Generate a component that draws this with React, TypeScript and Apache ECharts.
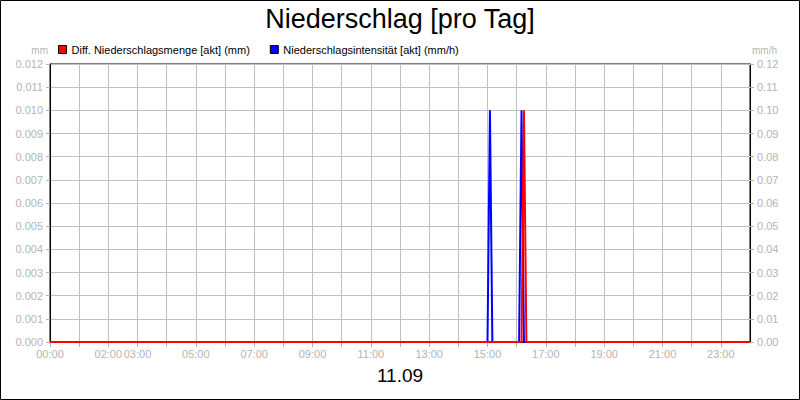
import { useRef, useEffect } from 'react'
import * as echarts from 'echarts'

// time in minutes since 00:00 of the day
const redTimes = [0, 970, 975, 980, 1440]
const redValues = [0, 0, 0.01, 0, 0]
const blueTimes = [0, 900, 905, 910, 965, 970, 975, 1440]
const blueValues = [0, 0, 0.1, 0, 0, 0.1, 0, 0]

const labeledHours = [0, 2, 3, 5, 7, 9, 11, 13, 15, 17, 19, 21, 23]
const redName = 'Diff. Niederschlagsmenge [akt] (mm)'
const blueName = 'Niederschlagsintensität [akt] (mm/h)'
const titleText = 'Niederschlag [pro Tag]'
const dayLabel = '11.09'

const FONT = '"Liberation Sans", Arial, sans-serif'
const LABEL_GRAY = '#b4b4b4'
const GRID_GRAY = '#c0c0c0'

export default function App() {
  const chartRef = useRef<HTMLDivElement>(null)

  useEffect(() => {
    if (!chartRef.current) return
    const chart = echarts.init(chartRef.current, undefined, { renderer: 'svg' })

    const redData = redTimes.map((t, i) => [t, redValues[i]])
    const blueData = blueTimes.map((t, i) => [t, blueValues[i]])

    chart.setOption({
      animation: false,
      backgroundColor: '#fff',
      textStyle: { fontFamily: FONT },
      title: {
        text: titleText,
        left: 'center',
        top: 0,
        textStyle: { fontSize: 27, fontWeight: 'normal', color: '#000', fontFamily: FONT },
      },
      legend: {
        left: 53,
        top: 39,
        icon: 'rect',
        itemWidth: 8,
        itemHeight: 8,
        itemGap: 20,
        itemStyle: { borderColor: '#000', borderWidth: 1 },
        textStyle: { fontSize: 11, color: '#000', fontFamily: FONT },
        data: [redName, blueName],
      },
      grid: { left: 50, right: 50, top: 64, bottom: 58, show: true, borderColor: '#000', borderWidth: 1 },
      xAxis: {
        type: 'value',
        min: 0,
        max: 1440,
        interval: 60,
        name: dayLabel,
        nameLocation: 'middle',
        nameGap: 24,
        nameTextStyle: { fontSize: 19, color: '#000', fontFamily: FONT },
        axisLine: { onZero: false, lineStyle: { color: '#000' } },
        axisTick: { length: 5, lineStyle: { color: LABEL_GRAY } },
        axisLabel: {
          color: LABEL_GRAY,
          fontSize: 11,
          margin: 6,
          showMaxLabel: false,
          formatter: (v: number) => {
            const h = Math.round(v / 60)
            return labeledHours.includes(h) && v < 1440 ? `${String(h).padStart(2, '0')}:00` : ''
          },
        },
        splitLine: { lineStyle: { color: GRID_GRAY } },
      },
      yAxis: [
        {
          type: 'value',
          min: 0,
          max: 0.012,
          interval: 0.001,
          name: 'mm',
          nameLocation: 'end',
          nameGap: 9,
          nameTextStyle: { color: LABEL_GRAY, fontSize: 10, align: 'right', padding: [0, 2, 0, 0] },
          axisLine: { show: true, lineStyle: { color: '#000' } },
          axisTick: { show: true, length: 4, lineStyle: { color: LABEL_GRAY } },
          axisLabel: { color: LABEL_GRAY, fontSize: 11, margin: 7, formatter: (v: number) => v.toFixed(3) },
          splitLine: { lineStyle: { color: GRID_GRAY } },
        },
        {
          type: 'value',
          min: 0,
          max: 0.12,
          interval: 0.01,
          position: 'right',
          name: 'mm/h',
          nameLocation: 'end',
          nameGap: 9,
          nameTextStyle: { color: LABEL_GRAY, fontSize: 10, align: 'left', padding: [0, 0, 0, 2] },
          axisLine: { show: true, lineStyle: { color: '#000' } },
          axisTick: { show: true, length: 4, lineStyle: { color: LABEL_GRAY } },
          axisLabel: { color: LABEL_GRAY, fontSize: 11, margin: 7, formatter: (v: number) => v.toFixed(2) },
          splitLine: { show: false },
        },
      ],
      graphic: [
        {
          type: 'rect',
          silent: true,
          shape: { x: 0.5, y: 0.5, width: 799, height: 399 },
          style: { fill: 'none', stroke: '#000', lineWidth: 1 },
        },
      ],
      series: [
        {
          name: blueName,
          type: 'line',
          yAxisIndex: 1,
          data: blueData,
          showSymbol: false,
          color: '#0000ff',
          lineStyle: { width: 2, color: '#0000ff' },
          z: 2,
        },
        {
          name: redName,
          type: 'line',
          yAxisIndex: 0,
          data: redData,
          showSymbol: false,
          color: '#ff0000',
          lineStyle: { width: 2, color: '#ff0000' },
          z: 3,
        },
      ],
    })

    return () => chart.dispose()
  }, [])

  return <div ref={chartRef} style={{ position: 'fixed', left: 0, top: 0, width: 800, height: 400 }} />
}
